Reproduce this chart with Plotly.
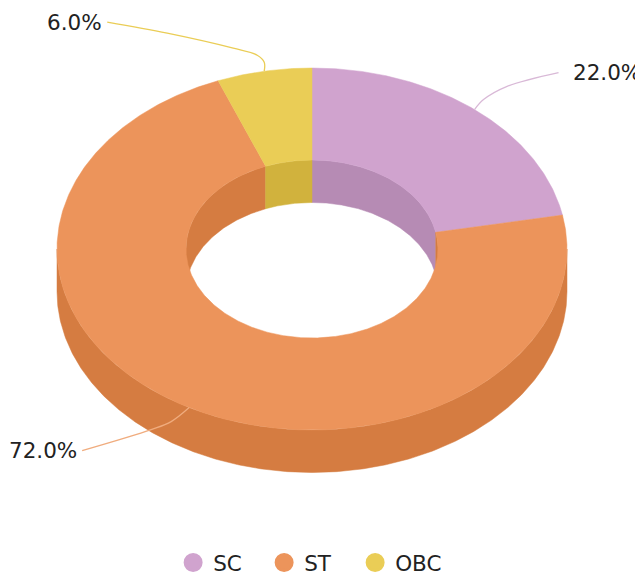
import numpy as np
import plotly.graph_objects as go

categories = ["SC", "ST", "OBC"]
shares = [22.0, 72.0, 6.0]
top_colors = ["#D0A3CE", "#EC945B", "#EACD56"]
wall_colors = ["#B68BB4", "#D57C41", "#D1B23D"]
line_colors = ["#D9B9D7", "#F0AC7E", "#EACD56"]

# Projection of the tilted ring, in page pixels
CX, CY, RX, RY, IRX, IRY, DEPTH = 312, 249, 255, 181, 126, 89, 42.5
PAGE_MARGIN = 8


def arc(rx, ry, a0, a1, dy=0.0):
    n = max(int(abs(a1 - a0) * 120), 2)
    t = np.linspace(a0, a1, n)
    return CX + rx * np.sin(t), CY - ry * np.cos(t) + dy


def poly(fig, x, y, color):
    fig.add_trace(go.Scatter(
        x=list(x) + [x[0]], y=list(y) + [y[0]], mode="lines", fill="toself",
        fillcolor=color, line=dict(color=color, width=0.5),
        hoverinfo="skip", showlegend=False))


fig = go.Figure()
total = sum(shares)
edges = 2 * np.pi * np.concatenate([[0], np.cumsum(shares)]) / total
spans = list(zip(edges[:-1], edges[1:]))

# inner wall (seen through the hole, rear half only)
for (a0, a1), c in zip(spans, wall_colors):
    for lo, hi in [(-np.pi / 2, np.pi / 2), (3 * np.pi / 2, 5 * np.pi / 2)]:
        s, e = max(a0, lo), min(a1, hi)
        if e > s:
            x1, y1 = arc(IRX, IRY, s, e)
            x2, y2 = arc(IRX, IRY, e, s, DEPTH)
            poly(fig, np.r_[x1, x2], np.r_[y1, y2], c)

# outer wall (front half only)
for (a0, a1), c in zip(spans, wall_colors):
    s, e = max(a0, np.pi / 2), min(a1, 3 * np.pi / 2)
    if e > s:
        x1, y1 = arc(RX, RY, s, e)
        x2, y2 = arc(RX, RY, e, s, DEPTH)
        poly(fig, np.r_[x1, x2], np.r_[y1, y2], c)

# top face
for (a0, a1), c in zip(spans, top_colors):
    x1, y1 = arc(RX, RY, a0, a1)
    x2, y2 = arc(IRX, IRY, a1, a0)
    poly(fig, np.r_[x1, x2], np.r_[y1, y2], c)

# leader lines (offsets from each slice's rim midpoint) and labels
leader_paths = [
    [(0, 0), (9, -10), (32, -23), (84, -37)],
    [(0, 0), (-18, 14), (-38, 22), (-107, 43)],
    [(0, 0), (0, -9), (-7, -16), (-31, -23), (-97, -38), (-157, -49)],
]
label_gaps = [(12, "left"), (-3, "right"), (-3, "right")]
for (a0, a1), v, lc, path, (gap, side) in zip(spans, shares, line_colors, leader_paths, label_gaps):
    m = (a0 + a1) / 2
    px = CX + RX * np.sin(m)
    py = CY - RY * np.cos(m)
    xs = [px + p[0] for p in path]
    ys = [py + p[1] for p in path]
    fig.add_trace(go.Scatter(x=xs, y=ys, mode="lines",
                             line=dict(color=lc, width=1.3, shape="spline", smoothing=1.0),
                             hoverinfo="skip", showlegend=False))
    fig.add_annotation(x=xs[-1] + gap, y=ys[-1], text=f"{v:.1f}%", showarrow=False,
                       xanchor=side, yanchor="middle",
                       font=dict(family="DejaVu Sans", size=21.5, color="#222222"))

# legend entries
for name, c in zip(categories, top_colors):
    fig.add_trace(go.Scatter(x=[None], y=[None], mode="markers", name=name,
                             marker=dict(color=c, size=16, symbol="circle", line=dict(color=c, width=3))))

fig.update_layout(
    width=643 - PAGE_MARGIN, height=576 - PAGE_MARGIN,
    margin=dict(l=0, r=0, t=0, b=0, autoexpand=False),
    paper_bgcolor="white", plot_bgcolor="white",
    xaxis=dict(range=[PAGE_MARGIN, 643], visible=False, fixedrange=True),
    yaxis=dict(range=[576, PAGE_MARGIN], visible=False, fixedrange=True),
    showlegend=True,
    legend=dict(orientation="h", x=0.475, xanchor="center", y=-0.0125, yanchor="bottom",
                font=dict(family="DejaVu Sans", size=21.5, color="#222222"),
                itemsizing="trace", itemwidth=30, entrywidth=46, entrywidthmode="pixels",
                bgcolor="rgba(0,0,0,0)"),
)
fig.write_html("out.html")
